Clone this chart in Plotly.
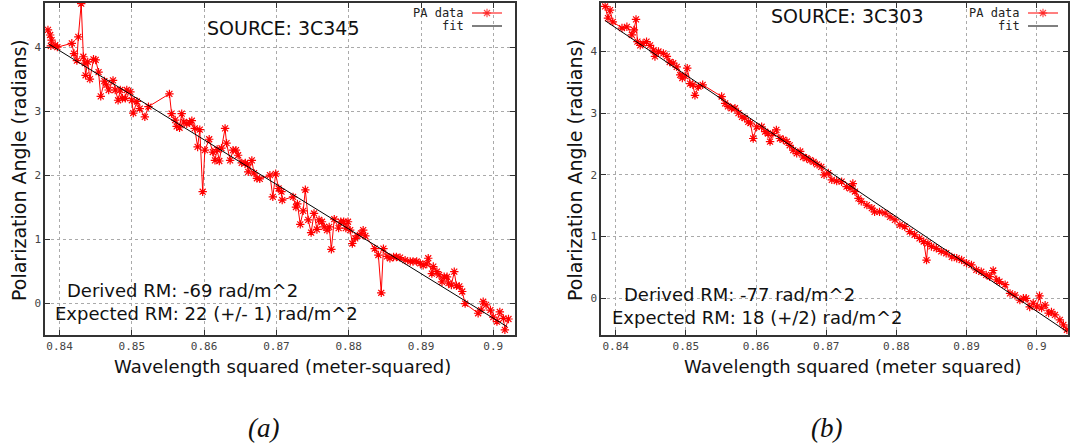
import plotly.graph_objects as go

W, H = 1070, 448

# ---------------- Panel (a): SOURCE 3C345 ----------------
a_wl2 = [0.8384, 0.8387, 0.8389, 0.8388, 0.8394, 0.8397, 0.8417, 0.8420, 0.8424, 0.8426,
         0.8430, 0.8433, 0.8435, 0.8436, 0.8439, 0.8442, 0.8447, 0.8450, 0.8454, 0.8457,
         0.8462, 0.8465, 0.8468, 0.8474, 0.8477, 0.8481, 0.8484, 0.8487, 0.8491, 0.8493,
         0.8498, 0.8500, 0.8502, 0.8507, 0.8511, 0.8518, 0.8523, 0.8552, 0.8555, 0.8560,
         0.8562, 0.8566, 0.8569, 0.8572, 0.8576, 0.8580, 0.8583, 0.8587, 0.8591, 0.8594,
         0.8598, 0.8601, 0.8607, 0.8612, 0.8615, 0.8618, 0.8621, 0.8624, 0.8629, 0.8631,
         0.8636, 0.8640, 0.8644, 0.8647, 0.8652, 0.8657, 0.8660, 0.8661, 0.8666, 0.8669,
         0.8673, 0.8677, 0.8691, 0.8695, 0.8699, 0.8703, 0.8707, 0.8708, 0.8723, 0.8727,
         0.8729, 0.8733, 0.8737, 0.8740, 0.8744, 0.8748, 0.8752, 0.8756, 0.8759, 0.8763,
         0.8766, 0.8770, 0.8773, 0.8776, 0.8780, 0.8786, 0.8789, 0.8793, 0.8796, 0.8799,
         0.8802, 0.8805, 0.8809, 0.8812, 0.8817, 0.8820, 0.8823, 0.8836, 0.8841, 0.8845,
         0.8848, 0.8853, 0.8857, 0.8862, 0.8866, 0.8871, 0.8878, 0.8885, 0.8889, 0.8894,
         0.8899, 0.8903, 0.8908, 0.8910, 0.8915, 0.8917, 0.8922, 0.8925, 0.8929, 0.8932,
         0.8936, 0.8938, 0.8942, 0.8946, 0.8949, 0.8953, 0.8957, 0.8961, 0.8979, 0.8983,
         0.8986, 0.8990, 0.8996, 0.9000, 0.9005, 0.9009, 0.9014, 0.9016, 0.9021]
a_pa = [4.27, 4.19, 4.11, 4.02, 4.03, 4.00, 4.06, 3.90, 3.79, 4.16,
        4.68, 3.85, 3.75, 3.56, 3.77, 3.50, 3.81, 3.80, 3.61, 3.23,
        3.47, 3.41, 3.33, 3.48, 3.33, 3.17, 3.33, 3.20, 3.20, 3.33,
        3.30, 3.17, 2.97, 3.15, 3.04, 2.91, 3.07, 3.27, 2.96, 2.86,
        2.76, 2.74, 2.96, 2.83, 2.80, 2.82, 2.85, 2.73, 2.44, 2.71,
        1.74, 2.39, 2.56, 2.36, 2.23, 2.40, 2.22, 2.42, 2.73, 2.50,
        2.23, 2.39, 2.39, 2.31, 2.19, 2.19, 2.16, 2.05, 2.23, 2.03,
        1.95, 1.94, 2.00, 1.66, 2.02, 1.79, 1.74, 1.61, 1.66, 1.50,
        1.55, 1.23, 1.44, 1.77, 1.30, 1.10, 1.40, 1.15, 1.30, 1.27,
        1.19, 1.14, 1.19, 0.84, 1.31, 1.17, 1.27, 1.27, 1.17, 1.27,
        1.14, 0.93, 1.01, 1.05, 1.09, 1.14, 1.05, 0.85, 0.75, 0.16,
        0.85, 0.73, 0.70, 0.72, 0.72, 0.71, 0.67, 0.65, 0.65, 0.65,
        0.62, 0.59, 0.61, 0.70, 0.46, 0.57, 0.49, 0.44, 0.33, 0.41,
        0.41, 0.31, 0.28, 0.49, 0.27, 0.26, 0.18, -0.01, -0.16, -0.11,
        0.02, -0.03, -0.11, -0.22, -0.29, -0.14, -0.24, -0.42, -0.25]
a_fit_wl2 = [0.8385, 0.9019]
a_fit_pa = [4.05, -0.37]

# ---------------- Panel (b): SOURCE 3C303 ----------------
b_wl2 = [0.8385, 0.8389, 0.8392, 0.8396, 0.8409, 0.8416, 0.8423, 0.8426, 0.8429, 0.8431,
         0.8435, 0.8439, 0.8444, 0.8449, 0.8454, 0.8456, 0.8461, 0.8468, 0.8473, 0.8477,
         0.8482, 0.8487, 0.8492, 0.8495, 0.8499, 0.8502, 0.8506, 0.8510, 0.8513, 0.8518,
         0.8524, 0.8551, 0.8556, 0.8560, 0.8565, 0.8570, 0.8575, 0.8580, 0.8584, 0.8589,
         0.8592, 0.8596, 0.8601, 0.8608, 0.8613, 0.8617, 0.8620, 0.8624, 0.8629, 0.8634,
         0.8639, 0.8644, 0.8648, 0.8653, 0.8658, 0.8663, 0.8667, 0.8672, 0.8677, 0.8682,
         0.8687, 0.8693, 0.8697, 0.8703, 0.8708, 0.8715, 0.8722, 0.8729, 0.8734, 0.8738,
         0.8741, 0.8746, 0.8750, 0.8758, 0.8765, 0.8769, 0.8776, 0.8784, 0.8791, 0.8798,
         0.8805, 0.8812, 0.8819, 0.8826, 0.8833, 0.8839, 0.8843, 0.8845, 0.8850, 0.8857,
         0.8864, 0.8871, 0.8879, 0.8886, 0.8893, 0.8900, 0.8907, 0.8914, 0.8921, 0.8928,
         0.8933, 0.8938, 0.8943, 0.8947, 0.8955, 0.8962, 0.8969, 0.8976, 0.8981, 0.8985,
         0.8990, 0.8995, 0.9000, 0.9004, 0.9007, 0.9012, 0.9017, 0.9021, 0.9026, 0.9033,
         0.9038, 0.9043]
b_pa = [4.73, 4.54, 4.67, 4.48, 4.38, 4.40, 4.27, 4.35, 4.52, 4.16,
        4.10, 4.13, 4.16, 4.10, 4.02, 3.92, 4.00, 3.97, 3.92, 3.83,
        3.81, 3.75, 3.62, 3.57, 3.60, 3.73, 3.48, 3.46, 3.29, 3.43,
        3.46, 3.27, 3.16, 3.11, 3.08, 3.08, 3.00, 2.94, 2.92, 2.86,
        2.84, 2.59, 2.78, 2.78, 2.70, 2.67, 2.54, 2.67, 2.73, 2.59,
        2.57, 2.54, 2.48, 2.40, 2.35, 2.38, 2.29, 2.27, 2.24, 2.21,
        2.17, 2.13, 2.00, 2.03, 1.92, 1.90, 1.89, 1.81, 1.78, 1.86,
        1.73, 1.62, 1.57, 1.51, 1.46, 1.40, 1.40, 1.38, 1.32, 1.27,
        1.19, 1.16, 1.08, 1.03, 0.97, 0.92, 0.62, 0.89, 0.84, 0.81,
        0.76, 0.73, 0.67, 0.65, 0.62, 0.57, 0.54, 0.46, 0.43, 0.38,
        0.35, 0.45, 0.30, 0.27, 0.22, 0.08, 0.05, -0.03, 0.00, 0.00,
        -0.14, -0.08, -0.14, 0.04, -0.16, -0.11, -0.24, -0.22, -0.27, -0.35,
        -0.43, -0.51]
b_fit_wl2 = [0.8385, 0.9043]
b_fit_pa = [4.50, -0.54]

x_tickvals = [0.84, 0.85, 0.86, 0.87, 0.88, 0.89, 0.90]
x_ticktext = ["0.84", "0.85", "0.86", "0.87", "0.88", "0.89", "0.9"]
y_tickvals = [0, 1, 2, 3, 4]
y_ticktext = ["0", "1", "2", "3", "4"]

# layout geometry (pixels)
def px(x):
    return x / W

def py(y):
    return 1 - y / H

RED = "#ff0000"
SANS = "DejaVu Sans"
MONO = "DejaVu Sans Mono"

fig = go.Figure()

def data_trace(x, y, xa, ya):
    return go.Scatter(x=x, y=y, xaxis=xa, yaxis=ya, mode="lines+markers",
                      line=dict(color=RED, width=1),
                      marker=dict(symbol="asterisk-open", size=7,
                                  color=RED, line=dict(color=RED, width=1.2)),
                      showlegend=False, hoverinfo="skip")

def fit_trace(x, y, xa, ya):
    return go.Scatter(x=x, y=y, xaxis=xa, yaxis=ya, mode="lines",
                      line=dict(color="#000000", width=1),
                      showlegend=False, hoverinfo="skip")

fig.add_trace(data_trace(a_wl2, a_pa, "x", "y"))
fig.add_trace(fit_trace(a_fit_wl2, a_fit_pa, "x", "y"))
fig.add_trace(data_trace(b_wl2, b_pa, "x2", "y2"))
fig.add_trace(fit_trace(b_fit_wl2, b_fit_pa, "x2", "y2"))

# legend samples drawn on a pixel-coordinate overlay axis
for (x0, x1) in [(472, 502), (1028, 1058)]:
    fig.add_trace(go.Scatter(x=[x0, (x0 + x1) / 2, x1], y=[13, 13, 13], xaxis="x3", yaxis="y3",
                             mode="lines+markers", line=dict(color=RED, width=1),
                             marker=dict(symbol="asterisk-open", size=[0, 7, 0], color=RED,
                                         line=dict(color=RED, width=1.2)),
                             showlegend=False, hoverinfo="skip"))
    fig.add_trace(go.Scatter(x=[x0, x1], y=[26, 26], xaxis="x3", yaxis="y3",
                             mode="lines", line=dict(color="#000000", width=1),
                             showlegend=False, hoverinfo="skip"))

def xaxis_cfg(dom, rng):
    return dict(domain=dom, range=rng, tickvals=x_tickvals, ticktext=x_ticktext,
                showgrid=True, gridcolor="#aaaaaa", griddash="dot", gridwidth=1,
                zeroline=False, showline=True, linecolor="#333333", linewidth=1.5,
                mirror="ticks", ticks="inside", ticklen=5, tickcolor="#333333",
                tickfont=dict(family=MONO, size=11, color="#444444"))

def yaxis_cfg(dom, rng, anchor):
    return dict(domain=dom, range=rng, tickvals=y_tickvals, ticktext=y_ticktext,
                anchor=anchor,
                showgrid=True, gridcolor="#aaaaaa", griddash="dot", gridwidth=1,
                zeroline=False, showline=True, linecolor="#333333", linewidth=1.5,
                mirror="ticks", ticks="inside", ticklen=5, tickcolor="#333333",
                tickfont=dict(family=MONO, size=11, color="#444444"))

ydom = [py(335), py(3)]
fig.update_layout(
    width=W, height=H,
    margin=dict(l=0, r=0, t=0, b=0),
    paper_bgcolor="white", plot_bgcolor="rgba(0,0,0,0)",
    xaxis=dict(**xaxis_cfg([px(45), px(515)], [0.83799, 0.90300]), anchor="y"),
    yaxis=yaxis_cfg(ydom, [-0.5, 4.69], "x"),
    xaxis2=dict(**xaxis_cfg([px(601), px(1068)], [0.83791, 0.90446]), anchor="y2"),
    yaxis2=yaxis_cfg(ydom, [-0.595, 4.786], "x2"),
    xaxis3=dict(domain=[0, 1], range=[0, W], visible=False, anchor="y3"),
    yaxis3=dict(domain=[0, 1], range=[H, 0], visible=False, anchor="x3"),
)

def ann(text, x, y, size, family=SANS, xanchor="center", color="#111111", angle=0):
    fig.add_annotation(text=text, x=px(x), y=py(y), xref="paper", yref="paper",
                       xanchor=xanchor, yanchor="middle", showarrow=False, textangle=angle,
                       font=dict(family=family, size=size, color=color))

# panel (a) texts
ann("SOURCE: 3C345", 283, 28, 19)
ann("Derived RM: -69 rad/m^2", 182, 290, 18)
ann("Expected RM: 22 (+/- 1) rad/m^2", 206, 313, 18)
ann("Wavelength squared (meter-squared)", 282, 366, 18)
ann("Polarization Angle (radians)", 19, 170, 19, angle=-90)
ann("PA data", 466, 13, 12, family=MONO, xanchor="right", color="#222222")
ann("fit", 466, 26, 12, family=MONO, xanchor="right", color="#222222")
ann("<i>(a)</i>", 263, 428, 27, family="Liberation Serif")

# panel (b) texts
ann("SOURCE: 3C303", 847, 16, 19)
ann("Derived RM: -77 rad/m^2", 739, 294, 18)
ann("Expected RM: 18 (+/2) rad/m^2", 758, 317, 18)
ann("Wavelength squared (meter squared)", 853, 366, 18)
ann("Polarization Angle (radians)", 575, 170, 19, angle=-90)
ann("PA data", 1022, 13, 12, family=MONO, xanchor="right", color="#222222")
ann("fit", 1022, 26, 12, family=MONO, xanchor="right", color="#222222")
ann("<i>(b)</i>", 826, 428, 27, family="Liberation Serif")

fig.write_html("out.html")
